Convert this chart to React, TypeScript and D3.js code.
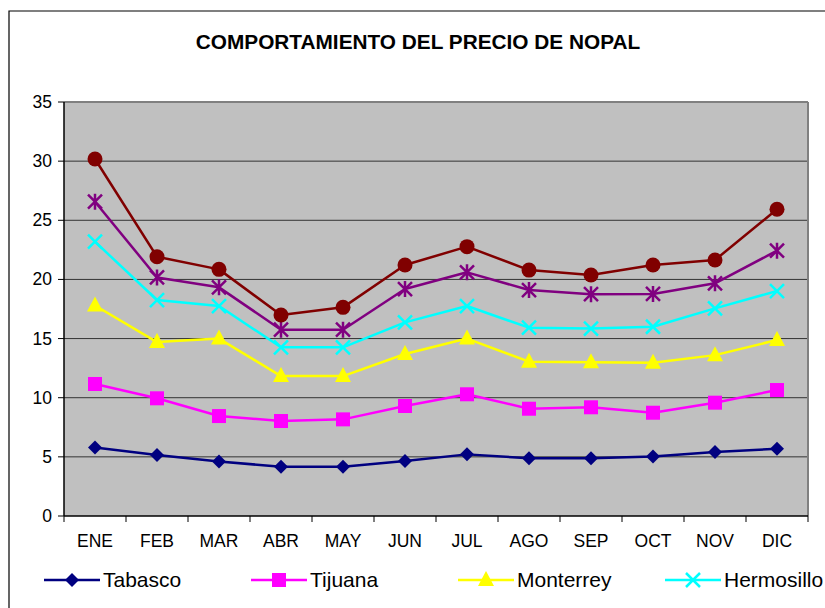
import * as d3 from 'd3'

const months = ['ENE', 'FEB', 'MAR', 'ABR', 'MAY', 'JUN', 'JUL', 'AGO', 'SEP', 'OCT', 'NOV', 'DIC']
const yTicks = [0, 5, 10, 15, 20, 25, 30, 35]

const tabasco = [5.8, 5.16, 4.6, 4.17, 4.17, 4.65, 5.21, 4.88, 4.88, 5.02, 5.41, 5.69]
const tijuana = [11.16, 9.95, 8.45, 8.03, 8.17, 9.3, 10.29, 9.07, 9.19, 8.73, 9.58, 10.65]
const monterrey = [17.8, 14.7, 15.0, 11.83, 11.83, 13.7, 15.0, 13.05, 13.0, 12.96, 13.6, 14.88]
const hermosillo = [23.19, 18.26, 17.75, 14.26, 14.26, 16.37, 17.75, 15.92, 15.85, 16.0, 17.55, 19.02]
const serie5 = [26.57, 20.17, 19.33, 15.75, 15.75, 19.19, 20.6, 19.1, 18.75, 18.77, 19.67, 22.43]
const serie6 = [30.18, 21.92, 20.85, 16.99, 17.64, 21.22, 22.77, 20.79, 20.37, 21.22, 21.64, 25.93]

// the last two series have no visible legend entry in the reference (cut off at the right)
const series = [
  { name: 'Tabasco', values: tabasco, color: '#000080', marker: 'diamond', legend: true },
  { name: 'Tijuana', values: tijuana, color: '#FF00FF', marker: 'square', legend: true },
  { name: 'Monterrey', values: monterrey, color: '#FFFF00', marker: 'triangle', legend: true },
  { name: 'Hermosillo', values: hermosillo, color: '#00FFFF', marker: 'x', legend: true },
  { name: 'Serie 5', values: serie5, color: '#800080', marker: 'star', legend: false },
  { name: 'Serie 6', values: serie6, color: '#800000', marker: 'circle', legend: false },
]

const W = 825
const H = 608
const plot = { left: 64, right: 808, top: 102, bottom: 516 }

function Marker({ type, x, y, color }: { type: string; x: number; y: number; color: string }) {
  if (type === 'diamond') {
    const s = 7
    return <path d={`M${x},${y - s}L${x + s},${y}L${x},${y + s}L${x - s},${y}Z`} fill={color} />
  }
  if (type === 'square') {
    return <rect x={x - 7} y={y - 7} width={14} height={14} fill={color} />
  }
  if (type === 'triangle') {
    return <path d={`M${x},${y - 9}L${x + 8},${y + 6}L${x - 8},${y + 6}Z`} fill={color} />
  }
  if (type === 'circle') {
    return <circle cx={x} cy={y} r={7.5} fill={color} />
  }
  if (type === 'x') {
    const s = 7
    return (
      <path d={`M${x - s},${y - s}L${x + s},${y + s}M${x + s},${y - s}L${x - s},${y + s}`}
        stroke={color} strokeWidth={2.5} fill="none" />
    )
  }
  // asterisk
  const s = 7
  return (
    <path d={`M${x - s},${y - s}L${x + s},${y + s}M${x + s},${y - s}L${x - s},${y + s}M${x},${y - s - 1}L${x},${y + s + 1}`}
      stroke={color} strokeWidth={2.5} fill="none" />
  )
}

export default function App() {
  const x = d3.scaleBand().domain(months).range([plot.left, plot.right])
  const y = d3.scaleLinear().domain([0, 35]).range([plot.bottom, plot.top])
  const cx = (m: string) => (x(m) ?? 0) + x.bandwidth() / 2
  const line = d3.line<number>().x((_, i) => cx(months[i])).y((d) => y(d))
  const font = 'Arial, "Liberation Sans", sans-serif'
  const tickEdges = months.map((m) => x(m) ?? 0).concat([plot.right])

  return (
    <svg width={W} height={H} style={{ position: 'fixed', left: 0, top: 0, background: '#fff' }} fontFamily={font}>
      <rect x={0} y={0} width={W} height={H} fill="#fff" />
      {/* outer chart frame */}
      <path d={`M9,${H}V11H${W}`} fill="none" stroke="#000" strokeWidth={1.2} />

      <text x={418} y={49} textAnchor="middle" fontSize={20.8} fontWeight="bold" fill="#000">
        COMPORTAMIENTO DEL PRECIO DE NOPAL
      </text>

      <rect x={plot.left} y={plot.top} width={plot.right - plot.left} height={plot.bottom - plot.top} fill="#C0C0C0" />
      {yTicks.slice(1, -1).map((t) => (
        <line key={t} x1={plot.left} x2={plot.right} y1={y(t)} y2={y(t)} stroke="#333" strokeWidth={1} />
      ))}
      <line x1={plot.left} x2={plot.right} y1={plot.top} y2={plot.top} stroke="#808080" strokeWidth={2} />
      <line x1={plot.right} x2={plot.right} y1={plot.top} y2={plot.bottom} stroke="#808080" strokeWidth={2} />

      {/* axes */}
      <line x1={plot.left} x2={plot.left} y1={plot.top} y2={plot.bottom} stroke="#000" strokeWidth={1.5} />
      <line x1={plot.left} x2={plot.right} y1={plot.bottom} y2={plot.bottom} stroke="#000" strokeWidth={1.5} />
      {yTicks.map((t) => (
        <g key={t}>
          <line x1={plot.left - 6} x2={plot.left} y1={y(t)} y2={y(t)} stroke="#000" />
          <text x={plot.left - 12} y={y(t) + 6} textAnchor="end" fontSize={17.5} fill="#000">{t}</text>
        </g>
      ))}
      {tickEdges.map((e, i) => (
        <line key={i} x1={e} x2={e} y1={plot.bottom} y2={plot.bottom + 6} stroke="#000" />
      ))}
      {months.map((m) => (
        <text key={m} x={cx(m)} y={547} textAnchor="middle" fontSize={17.5} fill="#000">{m}</text>
      ))}

      {series.map((s) => (
        <g key={s.name}>
          <path d={line(s.values) ?? ''} fill="none" stroke={s.color} strokeWidth={2.5} strokeLinejoin="round" />
          {s.values.map((v, i) => (
            <Marker key={i} type={s.marker} x={cx(months[i])} y={y(v)} color={s.color} />
          ))}
        </g>
      ))}

      {/* legend */}
      {series.filter((s) => s.legend).map((s, i) => {
        const lx = 44 + i * 207
        return (
          <g key={s.name}>
            <line x1={lx} x2={lx + 56} y1={580} y2={580} stroke={s.color} strokeWidth={2.5} />
            <Marker type={s.marker} x={lx + 28} y={580} color={s.color} />
            <text x={lx + 59} y={587} fontSize={21} fill="#000">{s.name}</text>
          </g>
        )
      })}
    </svg>
  )
}
